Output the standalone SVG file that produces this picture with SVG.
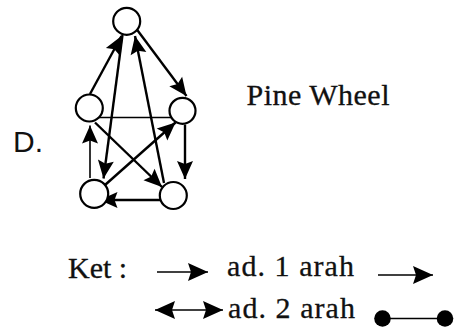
<svg xmlns="http://www.w3.org/2000/svg" width="466" height="331" viewBox="0 0 466 331">
<style>
.node{fill:#fff;stroke:#000;stroke-width:2.2}
.e{stroke:#000;stroke-width:2.4;fill:none}
.thin{stroke:#000;stroke-width:1.6;fill:none}
.serif{font-family:"Liberation Serif","Times New Roman",serif;font-size:30px;fill:#111;stroke:#111;stroke-width:0.3}
.sans{font-family:"Liberation Sans",Arial,sans-serif;font-size:30px;fill:#111}
</style>
<defs>
<marker id="ah" markerUnits="userSpaceOnUse" markerWidth="20" markerHeight="18" refX="18" refY="8" orient="auto" overflow="visible">
<path d="M0,0 L18,8 L0,16 L3,8 z" fill="#000"/>
</marker>
<marker id="ahL" markerUnits="userSpaceOnUse" markerWidth="22" markerHeight="20" refX="20" refY="9" orient="auto" overflow="visible">
<path d="M0,0 L20,9 L0,18 L3,9 z" fill="#000"/>
</marker>
<marker id="ahLs" markerUnits="userSpaceOnUse" markerWidth="22" markerHeight="20" refX="20" refY="9" orient="auto-start-reverse" overflow="visible">
<path d="M0,0 L20,9 L0,18 L3,9 z" fill="#000"/>
</marker>
</defs>
<g id="connectors">
<line class="e" x1="90" y1="94" x2="121.5" y2="36" marker-end="url(#ah)"/>
<line class="e" x1="136.5" y1="29" x2="186.5" y2="96" marker-end="url(#ah)"/>
<line class="e" x1="122.5" y1="35" x2="103.5" y2="178.5" marker-end="url(#ah)"/>
<line class="e" x1="164" y1="183" x2="135" y2="36" marker-end="url(#ah)"/>
<line class="thin" x1="99" y1="117.5" x2="173" y2="117.5"/>
<line class="e" x1="95" y1="122.5" x2="162" y2="187" marker-end="url(#ah)"/>
<line class="e" x1="105" y1="185" x2="175.5" y2="122.5" marker-end="url(#ah)"/>
<line class="thin" x1="90" y1="178" x2="90" y2="125.5" marker-end="url(#ah)"/>
<line class="e" x1="185" y1="124.5" x2="185" y2="179" marker-end="url(#ah)"/>
<line class="e" x1="162" y1="200" x2="99.5" y2="200" marker-end="url(#ah)"/>
</g>
<g id="n-top"><circle class="node" cx="126.7" cy="21.3" r="13.5"/></g>
<g id="n-left"><circle class="node" cx="89.3" cy="108" r="13.5"/></g>
<g id="n-right"><circle class="node" cx="182.5" cy="110.8" r="13"/></g>
<g id="n-bl"><circle class="node" cx="94.2" cy="193.8" r="14"/></g>
<g id="n-br"><circle class="node" cx="173.3" cy="195.5" r="13.5"/></g>
<text class="sans" x="13" y="152">D.</text>
<text class="serif" x="246.5" y="104.5" textLength="143" lengthAdjust="spacing">Pine Wheel</text>
<g id="legend">
<text class="serif" x="68" y="278">Ket :</text>
<line class="thin" x1="157" y1="272" x2="208" y2="272" marker-end="url(#ahL)"/>
<text class="serif" x="227" y="276" textLength="127" lengthAdjust="spacing">ad. 1 arah</text>
<line class="thin" x1="378" y1="275" x2="433" y2="275" marker-end="url(#ahL)"/>
<line class="thin" x1="155" y1="310" x2="223" y2="310" marker-start="url(#ahLs)" marker-end="url(#ahLs)"/>
<text class="serif" x="228" y="318" textLength="127" lengthAdjust="spacing">ad. 2 arah</text>
<line class="thin" x1="382.5" y1="318.5" x2="445" y2="318.5"/>
<circle cx="382.5" cy="318.5" r="8.3" fill="#000"/>
<circle cx="445" cy="318.5" r="8.3" fill="#000"/>
</g>
</svg>
